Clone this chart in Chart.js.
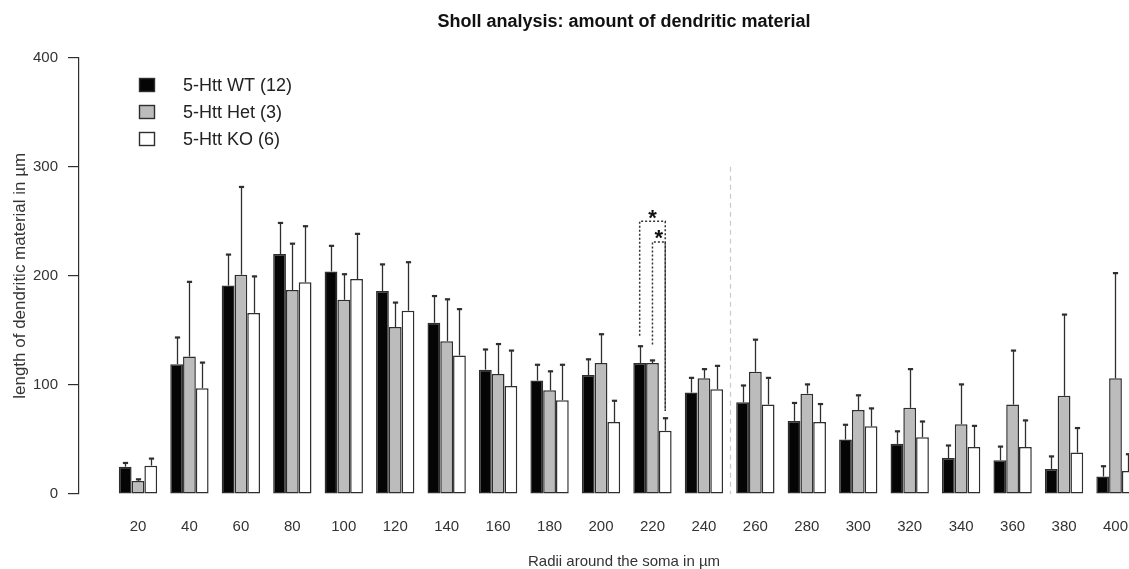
<!DOCTYPE html>
<html>
<head>
<meta charset="utf-8">
<script src="https://cdn.jsdelivr.net/npm/chart.js@4.4.1/dist/chart.umd.min.js"></script>
<style>
  html, body { margin: 0; padding: 0; background: #ffffff; overflow: hidden; }
  #wrap { width: 1169px; height: 569px; }
</style>
</head>
<body>
<div id="wrap"><canvas id="sholl" width="1169" height="569"></canvas></div>
<script>
// Sholl radii (µm) and mean dendritic length per genotype, with error (upper bar length)
const radii   = [20, 40, 60, 80, 100, 120, 140, 160, 180, 200, 220, 240, 260, 280, 300, 320, 340, 360, 380, 400];

const wtMean  = [25, 119, 191, 220, 204, 186, 157, 114, 104, 109, 120, 93, 84, 67, 50, 46, 33, 31, 23, 16];
const wtErr   = [4, 25, 29, 29, 24, 25, 25, 19, 15, 15, 16, 14, 16, 17, 14, 12, 12, 13, 12, 10];

const hetMean = [12, 126, 201, 187, 178, 153, 140, 110, 95, 120, 120, 106, 112, 92, 77, 79, 64, 82, 90, 106];
const hetErr  = [2, 69, 81, 43, 24, 23, 39, 28, 18, 27, 3, 9, 30, 9, 14, 36, 37, 50, 75, 97];

const koMean  = [26, 97, 166, 194, 197, 168, 127, 99, 86, 66, 58, 96, 82, 66, 62, 52, 43, 43, 38, 21];
const koErr   = [7, 24, 34, 52, 42, 45, 43, 33, 33, 20, 12, 22, 25, 17, 17, 15, 20, 25, 23, 16];

const seriesLabels = ['5-Htt WT (12)', '5-Htt Het (3)', '5-Htt KO (6)'];
const yTicks = [0, 100, 200, 300, 400];

// significance brackets at 220 µm: series index pairs, bracket top and the ends' heights
const sigRadius   = 220;
const sigFrom     = [0, 1];
const sigTo       = [2, 2];
const sigTop      = [250, 231];
const sigFromLow  = [145, 137];
const sigToLow    = [76, 76];
const sigMark     = ['*', '*'];

// dashed divider between proximal and distal radii
const dividerRadius = 250;
const dividerTop = 300;

const FONT = "'Liberation Sans', Arial, Helvetica, sans-serif";
const INK = '#2e2e2e';

const means = [wtMean, hetMean, koMean];
const errs = [wtErr, hetErr, koErr];
const fills = ['#050505', '#bcbcbc', '#ffffff'];

const datasets = means.map((m, k) => ({
  label: seriesLabels[k],
  data: radii.map((r, i) => ({ x: r, y: m[i] })),
  backgroundColor: fills[k],
  borderColor: INK,
  borderWidth: 1.5,
  borderSkipped: false,
  categoryPercentage: 0.745,
  barPercentage: 1.0
}));

const errorBars = {
  id: 'errorBars',
  afterDatasetsDraw(chart) {
    const { ctx, scales: { y } } = chart;
    ctx.save();
    ctx.strokeStyle = INK;
    chart.data.datasets.forEach((ds, k) => {
      const meta = chart.getDatasetMeta(k);
      meta.data.forEach((bar, i) => {
        const top = y.getPixelForValue(ds.data[i].y + errs[k][i]);
        const x = Math.round(bar.x) + 0.5;
        ctx.lineWidth = 1.3;
        ctx.beginPath();
        ctx.moveTo(x, bar.y);
        ctx.lineTo(x, top);
        ctx.stroke();
        ctx.lineWidth = 2.2;
        ctx.beginPath();
        ctx.moveTo(x - 2.6, top + 0.6);
        ctx.lineTo(x + 2.6, top + 0.6);
        ctx.stroke();
      });
    });
    ctx.restore();
  }
};

const divider = {
  id: 'divider',
  beforeDatasetsDraw(chart) {
    const { ctx, scales: { x, y } } = chart;
    const px = Math.round(x.getPixelForValue(dividerRadius)) + 0.5;
    ctx.save();
    ctx.strokeStyle = '#c9c9c9';
    ctx.lineWidth = 1.2;
    ctx.setLineDash([5, 4]);
    ctx.beginPath();
    ctx.moveTo(px, y.getPixelForValue(dividerTop));
    ctx.lineTo(px, y.getPixelForValue(0));
    ctx.stroke();
    ctx.restore();
  }
};

const brackets = {
  id: 'brackets',
  afterDatasetsDraw(chart) {
    const { ctx, scales: { y } } = chart;
    const g = radii.indexOf(sigRadius);
    ctx.save();
    sigFrom.forEach((a, n) => {
      const xa = chart.getDatasetMeta(a).data[g].x;
      const xb = chart.getDatasetMeta(sigTo[n]).data[g].x;
      const yt = y.getPixelForValue(sigTop[n]);
      ctx.strokeStyle = '#333';
      ctx.lineWidth = 1.5;
      ctx.setLineDash([2, 2]);
      ctx.beginPath();
      ctx.moveTo(xa, y.getPixelForValue(sigFromLow[n]));
      ctx.lineTo(xa, yt);
      ctx.lineTo(xb, yt);
      ctx.lineTo(xb, y.getPixelForValue(sigToLow[n]));
      ctx.stroke();
      ctx.setLineDash([]);
      ctx.fillStyle = '#111';
      ctx.font = "bold 22px " + FONT;
      ctx.textAlign = 'center';
      ctx.textBaseline = 'alphabetic';
      const m = ctx.measureText(sigMark[n]);
      const cy = yt - 7;
      const base = cy + (m.actualBoundingBoxAscent - m.actualBoundingBoxDescent) / 2;
      ctx.fillText(sigMark[n], (xa + xb) / 2, base);
    });
    ctx.restore();
  }
};

const boxLegend = {
  id: 'boxLegend',
  afterDraw(chart) {
    const { ctx } = chart;
    const rows = [85, 112, 139];
    ctx.save();
    ctx.font = "18px " + FONT;
    ctx.textBaseline = 'middle';
    ctx.textAlign = 'left';
    chart.data.datasets.forEach((ds, k) => {
      const cy = rows[k];
      ctx.fillStyle = ds.backgroundColor;
      ctx.fillRect(139.5, cy - 6.5, 15, 13);
      ctx.strokeStyle = INK;
      ctx.lineWidth = 1.4;
      ctx.strokeRect(139.5, cy - 6.5, 15, 13);
      ctx.fillStyle = '#222';
      ctx.fillText(ds.label, 183, cy + 1);
    });
    ctx.restore();
  }
};

new Chart(document.getElementById('sholl'), {
  type: 'bar',
  data: { datasets },
  plugins: [divider, errorBars, brackets, boxLegend],
  options: {
    responsive: false,
    animation: false,
    devicePixelRatio: 1,
    layout: { padding: 0 },
    plugins: {
      legend: { display: false },
      tooltip: { enabled: false },
      title: {
        display: true,
        text: 'Sholl analysis: amount of dendritic material',
        fullSize: false,
        color: '#111',
        font: { family: FONT, size: 18, weight: 'bold' },
        padding: { top: 11, bottom: 25 }
      }
    },
    scales: {
      x: {
        type: 'linear',
        offset: false,
        min: -2.93,
        max: 420.8,
        grid: { display: false, offset: false },
        border: { display: false },
        ticks: {
          autoSkip: false,
          maxRotation: 0,
          padding: 16,
          color: '#333',
          font: { family: FONT, size: 15 }
        },
        afterBuildTicks: (s) => { s.ticks = radii.map(v => ({ value: v })); },
        afterFit: (s) => { s.height = 75; },
        title: {
          display: true,
          text: 'Radii around the soma in µm',
          color: '#333',
          font: { family: FONT, size: 15 },
          padding: { top: 0, bottom: -2 }
        }
      },
      y: {
        min: 0,
        max: 400,
        grid: {
          drawOnChartArea: false,
          drawTicks: true,
          tickLength: 11,
          color: INK,
          lineWidth: 1.2
        },
        border: { display: true, color: INK, width: 1.2 },
        afterBuildTicks: (s) => { s.ticks = yTicks.map(v => ({ value: v })); },
        afterFit: (s) => { s.width = 79; },
        ticks: {
          padding: 10,
          color: '#333',
          font: { family: FONT, size: 15 }
        },
        title: {
          display: true,
          text: 'length of dendritic material in µm',
          color: '#333',
          font: { family: FONT, size: 17 },
          padding: { top: 10, bottom: 0 }
        }
      }
    }
  }
});
</script>
</body>
</html>
